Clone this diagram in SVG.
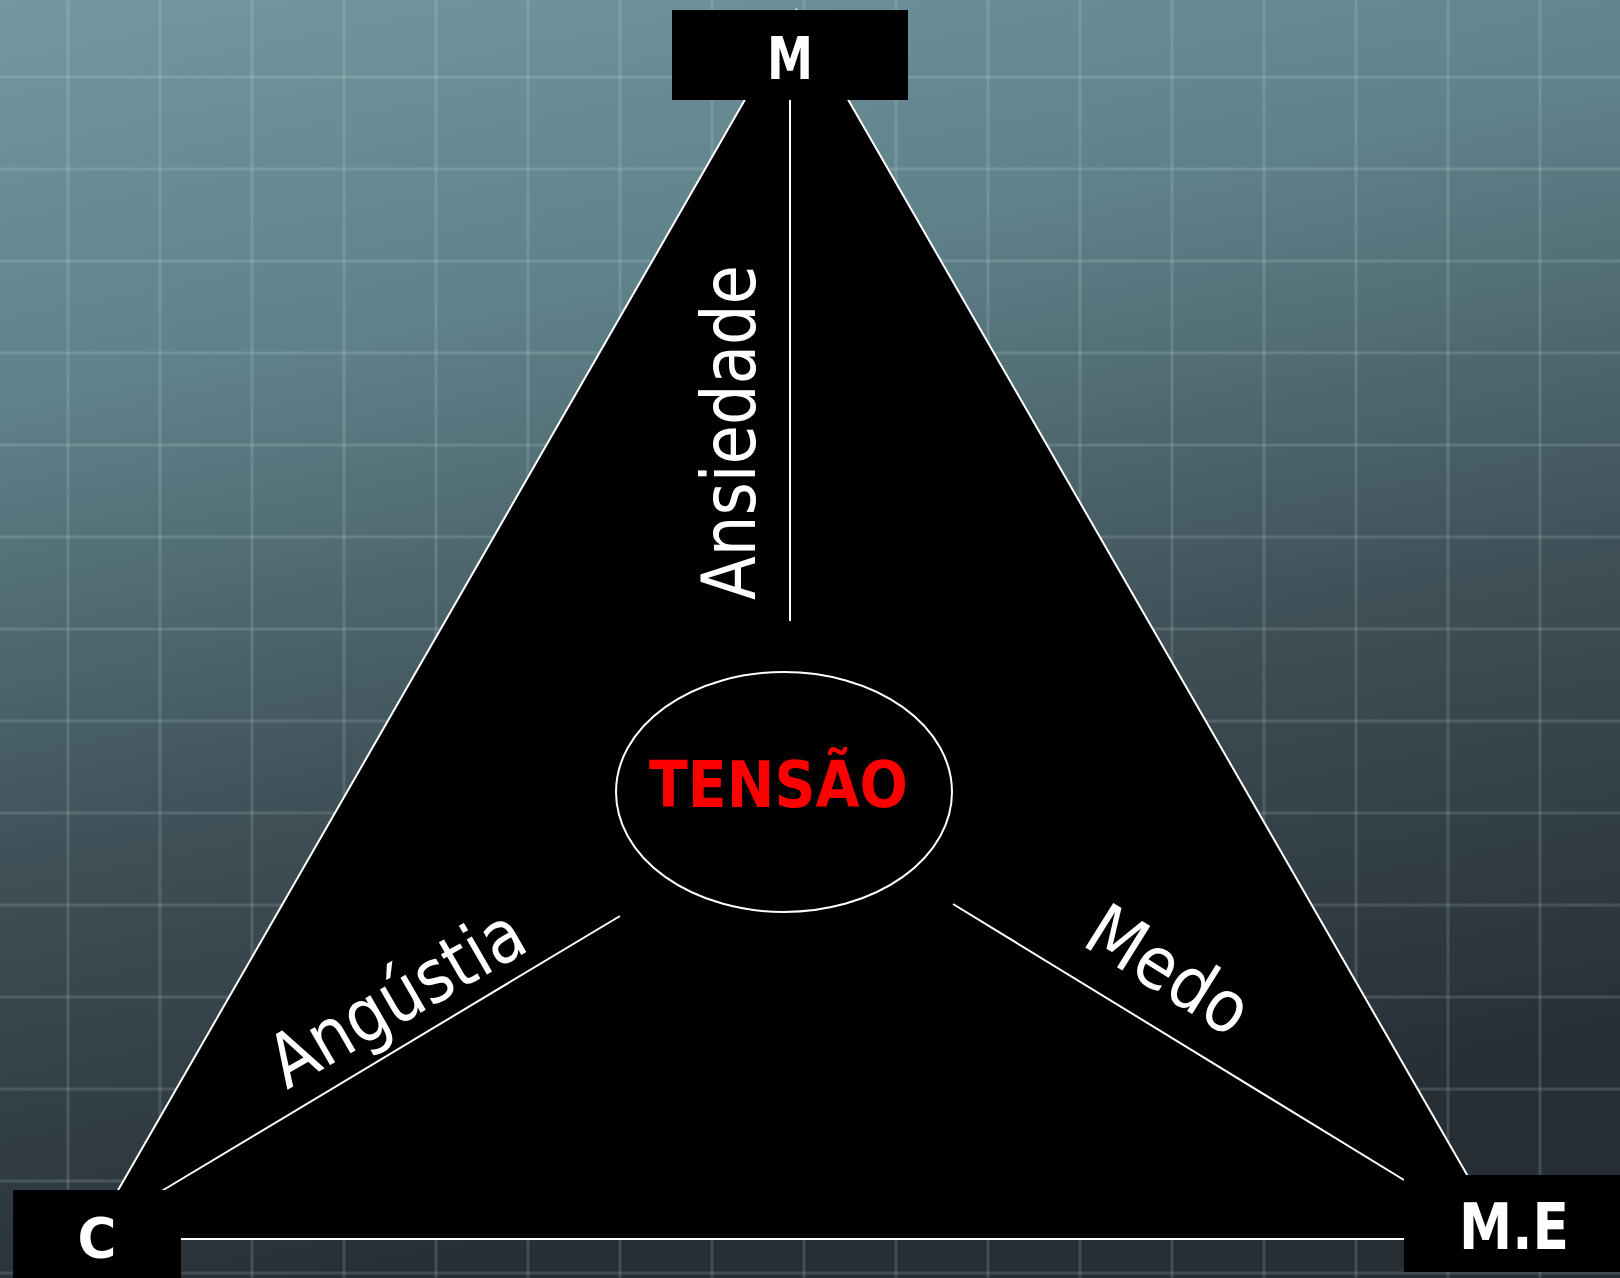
<svg xmlns="http://www.w3.org/2000/svg" width="1620" height="1278" viewBox="0 0 1620 1278">
  <defs>
    <linearGradient id="bg" x1="0" y1="0" x2="0.25" y2="1">
      <stop offset="0" stop-color="#73989f"/>
      <stop offset="0.3" stop-color="#5f818a"/>
      <stop offset="0.65" stop-color="#3e4f56"/>
      <stop offset="1" stop-color="#272f35"/>
    </linearGradient>
    <pattern id="grid" x="0" y="0" width="92" height="92" patternUnits="userSpaceOnUse">
      <line x1="68" y1="0" x2="68" y2="92" stroke="#d8eef2" stroke-width="3" stroke-opacity="0.15"/>
      <line x1="0" y1="77" x2="92" y2="77" stroke="#d8eef2" stroke-width="3" stroke-opacity="0.15"/>
    </pattern>
    <style>
      .edge { stroke: #ffffff; stroke-width: 2; fill: none; }
      .box { fill: #000000; }
      .lbl { font-family: "DejaVu Sans", "Liberation Sans", sans-serif; fill: #ffffff; }
      .boxlbl { font-family: "DejaVu Sans", "Liberation Sans", sans-serif; font-weight: bold; fill: #ffffff; text-anchor: middle; }
    </style>
  </defs>

  <rect x="0" y="0" width="1620" height="1278" fill="url(#bg)"/>
  <rect x="0" y="0" width="1620" height="1278" fill="url(#grid)"/>

  <g id="triangle">
    <polygon points="796.5,10 1504,1239 90,1239" fill="#000000" stroke="#ffffff" stroke-width="2"/>
  </g>

  <g id="connectors">
    <line class="edge" x1="790" y1="100" x2="790" y2="621"/>
    <line class="edge" x1="620" y1="916" x2="160" y2="1192"/>
    <line class="edge" x1="953" y1="904" x2="1404" y2="1180"/>
  </g>

  <g id="labels">
    <text class="lbl" font-size="74" transform="translate(755,600) rotate(-90)" textLength="335" lengthAdjust="spacingAndGlyphs">Ansiedade</text>
    <text class="lbl" font-size="74" transform="translate(287,1090) rotate(-30)" textLength="282" lengthAdjust="spacingAndGlyphs">Angústia</text>
    <text class="lbl" font-size="72" transform="translate(1080,944) rotate(32)" textLength="178" lengthAdjust="spacingAndGlyphs">Medo</text>
  </g>

  <g id="node-tensao">
    <ellipse cx="784" cy="792" rx="168" ry="120" fill="#000000" stroke="#ffffff" stroke-width="2"/>
    <text x="649" y="807" font-family="DejaVu Sans, Liberation Sans, sans-serif" font-weight="bold" font-size="64" fill="#ff0000" textLength="259" lengthAdjust="spacingAndGlyphs">TENSÃO</text>
  </g>

  <g id="node-m">
    <rect class="box" x="672" y="10" width="236" height="90"/>
    <text class="boxlbl" x="790" y="79" font-size="59" textLength="46" lengthAdjust="spacingAndGlyphs">M</text>
  </g>

  <g id="node-c">
    <rect class="box" x="13" y="1190" width="168" height="88"/>
    <text class="boxlbl" x="97" y="1257" font-size="56" textLength="39" lengthAdjust="spacingAndGlyphs">C</text>
  </g>

  <g id="node-me">
    <rect class="box" x="1404" y="1175" width="216" height="97"/>
    <line class="edge" x1="181" y1="1239" x2="1404" y2="1239"/>
    <text class="boxlbl" x="1514" y="1249" font-size="64" textLength="110" lengthAdjust="spacingAndGlyphs">M.E</text>
  </g>
</svg>
